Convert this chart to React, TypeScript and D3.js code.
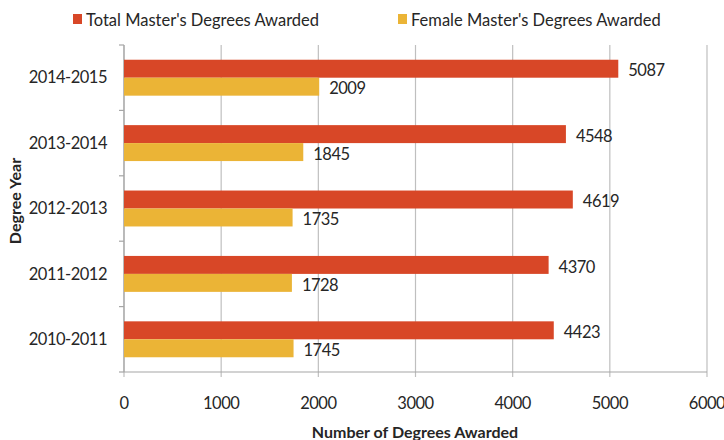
import React from 'react';
import * as d3 from 'd3';

const years = ['2014-2015', '2013-2014', '2012-2013', '2011-2012', '2010-2011'];
const totalDegrees = [5087, 4548, 4619, 4370, 4423];
const femaleDegrees = [2009, 1845, 1735, 1728, 1745];
const seriesNames = ["Total Master's Degrees Awarded", "Female Master's Degrees Awarded"];
const xTicks = [0, 1000, 2000, 3000, 4000, 5000, 6000];

const colors = ['#d84727', '#ebb436'];
const font = 'Lato, "Open Sans", sans-serif';
const textColor = '#262626';

export default function App() {
  const width = 724, height = 440;
  const left = 124, right = 707, top = 45, bottom = 372;

  const x = d3.scaleLinear().domain([0, 6000]).range([left, right]);
  const y = d3.scaleBand().domain(years).range([top, bottom]);
  const inner = d3.scaleBand().domain(seriesNames).range([0, y.bandwidth()]).paddingOuter(0.82);

  const values = [totalDegrees, femaleDegrees];

  // narrow-ish label style to mimic the original's condensed font
  const lbl = { fontFamily: font, fontSize: 16.5, letterSpacing: -0.5, fill: textColor };

  return (
    <svg width={width} height={height} style={{ position: 'absolute', left: 0, top: 0 }}>
      <rect width={width} height={height} fill="#fff" />
      {/* legend */}
      {seriesNames.map((s, i) => {
        const lx = i === 0 ? 73 : 398;
        return (
          <g key={s}>
            <rect x={lx} y={14} width={9} height={10} fill={colors[i]} />
            <text x={lx + 13} y={20} dy="0.35em" fontFamily={font} fontSize={16.5} fill={textColor}>{s}</text>
          </g>
        );
      })}
      {/* gridlines */}
      {xTicks.map(t => (
        <line key={t} x1={x(t)} x2={x(t)} y1={top} y2={bottom + 5} stroke="#bfbfbf" strokeWidth={1.2} />
      ))}
      {/* y axis */}
      <line x1={left} x2={left} y1={top} y2={bottom} stroke="#a6a6a6" strokeWidth={1.2} />
      {years.map(yr => (
        <line key={yr} x1={left - 5} x2={left} y1={y(yr)} y2={y(yr)} stroke="#a6a6a6" strokeWidth={1.2} />
      ))}
      <line x1={left - 5} x2={left} y1={bottom} y2={bottom} stroke="#a6a6a6" strokeWidth={1.2} />
      {/* x axis */}
      <line x1={left} x2={right} y1={bottom} y2={bottom} stroke="#a6a6a6" strokeWidth={1.2} />
      {/* bars */}
      {years.map((yr, j) => (
        <g key={yr}>
          {seriesNames.map((s, i) => {
            const by = (y(yr) as number) + (inner(s) as number);
            const v = values[i][j];
            return (
              <g key={s}>
                <rect x={x(0)} y={by} width={x(v) - x(0)} height={inner.bandwidth()} fill={colors[i]} />
                <text x={x(v) + 10} y={by + inner.bandwidth() / 2 + 2} dy="0.35em" {...lbl}>{v}</text>
              </g>
            );
          })}
          <text x={left - 17} y={(y(yr) as number) + y.bandwidth() / 2} dy="0.35em" textAnchor="end" {...lbl}>{yr}</text>
        </g>
      ))}
      {/* x tick labels */}
      {xTicks.map(t => (
        <text key={t} x={x(t)} y={403} dy="0.35em" textAnchor="middle" {...lbl}>{t}</text>
      ))}
      <text x={415} y={432} dy="0.35em" textAnchor="middle" fontFamily={font} fontSize={16} fontWeight="bold" fill={textColor}>Number of Degrees Awarded</text>
      <text transform="translate(15,201) rotate(-90)" dy="0.35em" textAnchor="middle" fontFamily={font} fontSize={16} fontWeight="bold" fill={textColor}>Degree Year</text>
    </svg>
  );
}
